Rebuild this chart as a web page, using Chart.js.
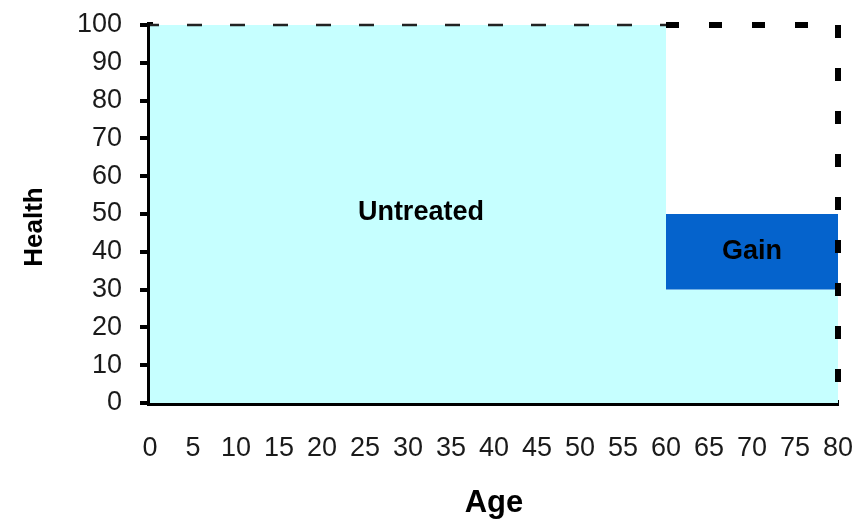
<!DOCTYPE html>
<html>
<head>
<meta charset="utf-8">
<script src="https://cdn.jsdelivr.net/npm/chart.js@4"></script>
<style>
html,body{margin:0;padding:0;background:#fff;}
#wrap{width:853px;height:519px;}
</style>
</head>
<body>
<div id="wrap"><canvas id="c" width="853" height="519"></canvas></div>
<script>
// ---- data ----
const xTicks = [0,5,10,15,20,25,30,35,40,45,50,55,60,65,70,75,80];
const yTicks = [0,10,20,30,40,50,60,70,80,90,100];
const untreatedAge = [0, 60, 60, 80];
const untreatedHealth = [100, 100, 30, 30];
const gainAge = [60, 80];
const gainTop = [50, 50];
const gainBase = 30;
const fullHealthAge = [0, 60];
const fullHealthValue = [100, 100];
const treatedAge = [60, 80, 80];
const treatedHealth = [100, 100, 0];
const regionLabels = ["Untreated", "Gain"];
const regionLabelAge = [31.5, 70];
const regionLabelHealth = [50.3, 40];
const xTitle = "Age";
const yTitle = "Health";

const pts = (xs, ys) => xs.map((x, i) => ({x: x, y: ys[i]}));

const textPlugin = {
  id: 'texts',
  afterDatasetsDraw(chart) {
    const ctx = chart.ctx;
    const xs = chart.scales.x, ys = chart.scales.y;
    ctx.save();
    ctx.fillStyle = '#000';
    ctx.textAlign = 'center';
    ctx.textBaseline = 'middle';
    ctx.font = 'bold 27px "Liberation Sans", Arial, sans-serif';
    regionLabels.forEach((t, i) => {
      ctx.fillText(t, xs.getPixelForValue(regionLabelAge[i]), ys.getPixelForValue(regionLabelHealth[i]));
    });
    ctx.font = 'bold 31px "Liberation Sans", Arial, sans-serif';
    ctx.fillText(xTitle, (chart.chartArea.left + chart.chartArea.right) / 2, 503);
    ctx.translate(35, 227);
    ctx.rotate(-Math.PI / 2);
    ctx.font = 'bold 26px "Liberation Sans", Arial, sans-serif';
    ctx.fillText(yTitle, 0, 0);
    ctx.restore();
  }
};

new Chart(document.getElementById('c'), {
  type: 'line',
  data: {
    datasets: [
      {
        label: 'Treated', data: pts(treatedAge, treatedHealth),
        borderColor: '#000', borderWidth: 6, borderDash: [13, 30], borderDashOffset: 0,
        borderCapStyle: 'butt', pointRadius: 0, fill: false, order: 1, tension: 0, clip: false
      },
      {
        label: 'Full health', data: pts(fullHealthAge, fullHealthValue),
        borderColor: '#222', borderWidth: 2.5, borderDash: [15, 28], borderDashOffset: 6,
        pointRadius: 0, fill: false, order: 2, tension: 0, clip: false
      },
      {
        label: 'Gain', data: pts(gainAge, gainTop),
        borderWidth: 0, borderColor: 'rgba(0,0,0,0)', backgroundColor: '#0563CC',
        pointRadius: 0, fill: {value: gainBase}, order: 3, tension: 0
      },
      {
        label: 'Untreated', data: pts(untreatedAge, untreatedHealth),
        borderWidth: 0, borderColor: 'rgba(0,0,0,0)', backgroundColor: '#C6FFFF',
        pointRadius: 0, fill: 'origin', order: 4, tension: 0
      }
    ]
  },
  options: {
    responsive: false,
    animation: false,
    layout: {padding: {left: 0, right: 15, top: 25, bottom: 0}},
    plugins: {legend: {display: false}, tooltip: {enabled: false}},
    scales: {
      x: {
        type: 'linear', min: 0, max: 80, z: 1,
        afterBuildTicks: s => { s.ticks = xTicks.map(v => ({value: v})); },
        afterFit: s => { s.height = 116; s.paddingLeft = 0; s.paddingRight = 0; },
        grid: {display: true, drawOnChartArea: false, drawTicks: false},
        border: {display: true, color: '#000', width: 6},
        ticks: {color: '#1a1a1a', padding: 29, autoSkip: false, maxRotation: 0,
                font: {family: '"Liberation Sans", Arial, sans-serif', size: 27}}
      },
      y: {
        type: 'linear', min: 0, max: 100, z: 1,
        afterBuildTicks: s => { s.ticks = yTicks.map(v => ({value: v})); },
        afterFit: s => { s.width = 150; s.paddingTop = 0; s.paddingBottom = 0; },
        grid: {display: true, drawOnChartArea: false, drawTicks: true, tickLength: 10, color: '#000', lineWidth: 4},
        border: {display: true, color: '#000', width: 6},
        ticks: {color: '#1a1a1a', padding: 18, font: {family: '"Liberation Sans", Arial, sans-serif', size: 27}}
      }
    }
  },
  plugins: [textPlugin]
});
</script>
</body>
</html>
